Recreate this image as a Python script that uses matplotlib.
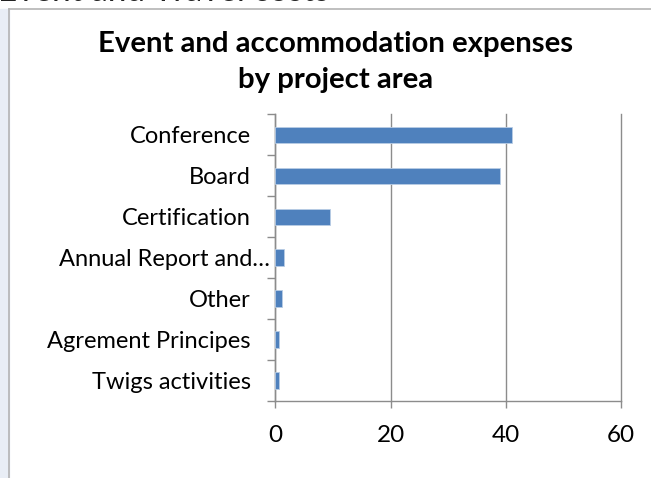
import matplotlib
matplotlib.use("Agg")
import matplotlib.pyplot as plt
import matplotlib.patches as mpatches
from matplotlib.transforms import ScaledTranslation
import numpy as np

categories = [
    "Conference",
    "Board",
    "Certification",
    "Annual Report and…",
    "Other",
    "Agrement Principes",
    "Twigs activities",
]
expenses = [41.1, 39.0, 9.5, 1.5, 1.2, 0.65, 0.65]
x_ticks = [0, 20, 40, 60]

bar_color = "#4F81BD"
grid_color = "#8C8C8C"
text_color = "#000000"

plt.rcParams.update({
    "font.family": ["Lato", "DejaVu Sans"],
    "font.size": 17,
})

W, H = 651, 478
fig = plt.figure(figsize=(W / 100, H / 100), dpi=100)

# window frame around the chart area
fig.patches.append(mpatches.Rectangle((0, 0), 8.5 / W, 1 - 8.5 / H, transform=fig.transFigure,
                                      color="#E9EEF6", zorder=0))
fig.lines.append(plt.Line2D([8.5 / W, 8.5 / W], [0, 1 - 8.5 / H], transform=fig.transFigure,
                            color="#B4B4B4", lw=1.2))
fig.lines.append(plt.Line2D([8.5 / W, 1], [1 - 8.5 / H, 1 - 8.5 / H], transform=fig.transFigure,
                            color="#B4B4B4", lw=1.2))

# cut-off heading above the chart (only its lower edge shows)
fig.text(-2 / W, 1 - 0.6 / H, "Event and Travel costs", fontsize=24, ha="left", va="baseline",
         color="#222222")

fig.text(336 / W, 1 - 52 / H, "Event and accommodation expenses", fontsize=21.2,
         fontweight="bold", ha="center", va="baseline", color=text_color)
fig.text(336 / W, 1 - 88 / H, "by project area", fontsize=21.2,
         fontweight="bold", ha="center", va="baseline", color=text_color)

ax = fig.add_axes([275.3 / W, 1 - 401 / H, (621 - 275.3) / W, (401 - 114.3) / H])

y = np.arange(len(categories))
ax.barh(y, expenses, height=0.4, color=bar_color, edgecolor="#B9CDE5", linewidth=0.6, zorder=3)

ax.set_xlim(0, 60)
ax.set_ylim(len(categories) - 0.5, -0.5)
ax.set_xticks(x_ticks)
ax.set_xticklabels([str(t) for t in x_ticks])

ax.set_yticks(y)
ax.set_yticklabels(categories)
ax.set_yticks(np.arange(len(categories) + 1) - 0.5, minor=True)
ax.tick_params(axis="y", which="major", length=0, pad=17.5, labelsize=17)
ax.tick_params(axis="y", which="minor", length=5.8, width=1, color=grid_color, direction="out")
ax.tick_params(axis="x", length=5, width=1, color=grid_color, pad=12, labelsize=17.5)

# the long label sits further right, like the original
for lab in ax.get_yticklabels():
    if lab.get_text().startswith("Annual"):
        lab.set_transform(lab.get_transform() + ScaledTranslation(19 / 100, 0, fig.dpi_scale_trans))

ax.grid(axis="x", color=grid_color, linewidth=1, zorder=0)
ax.set_axisbelow(True)
for gl in ax.get_xgridlines():
    gl.set_clip_on(False)

for side in ["top", "right"]:
    ax.spines[side].set_visible(False)
for side in ["left", "bottom"]:
    ax.spines[side].set_color(grid_color)
    ax.spines[side].set_linewidth(1)

fig.savefig("out.png", dpi=100)
plt.close(fig)
